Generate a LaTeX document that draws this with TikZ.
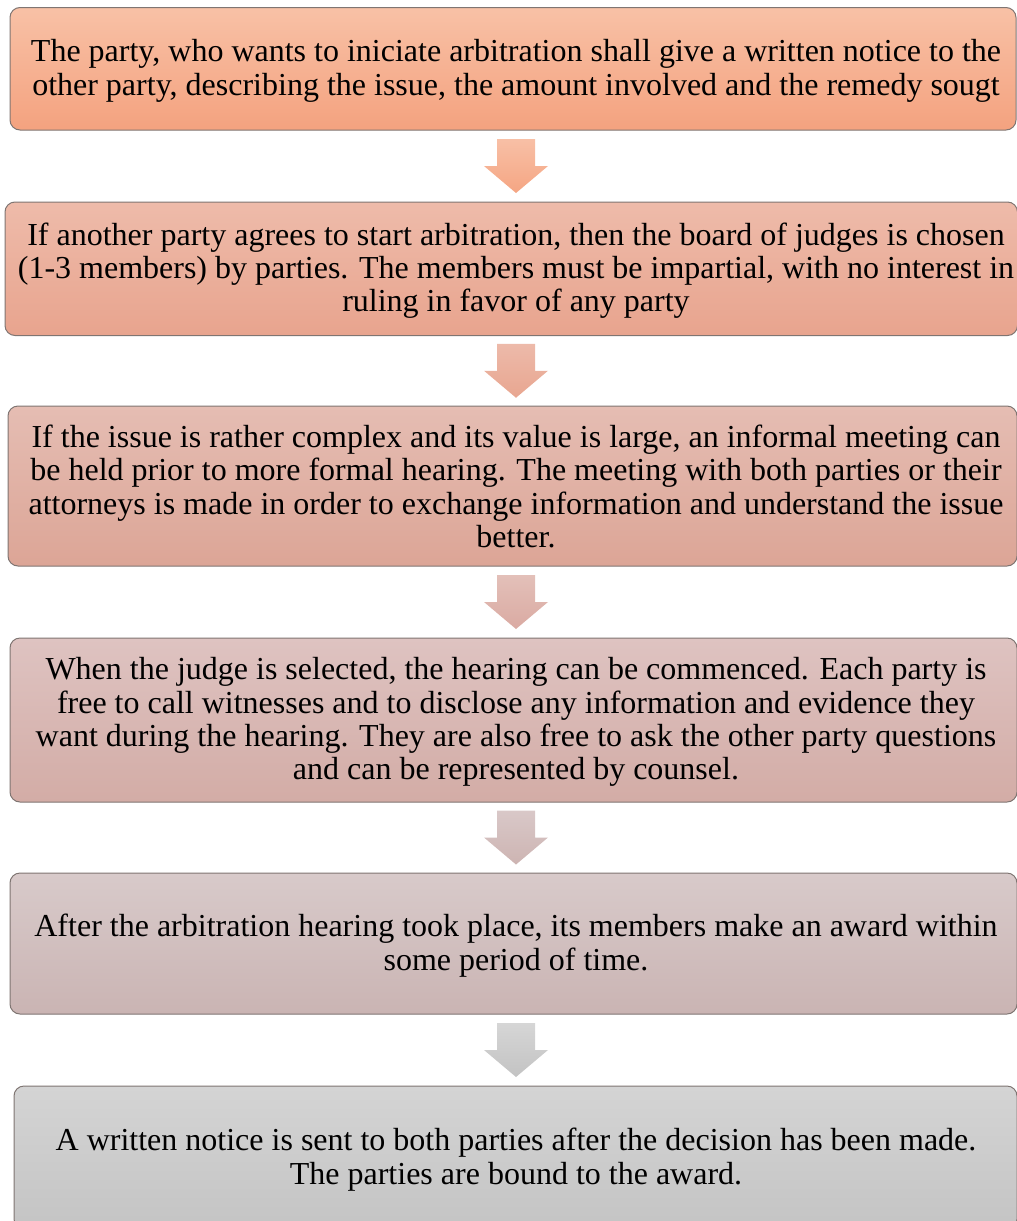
\documentclass[tikz,border=0pt]{standalone}
\usepackage{fontspec}
\setmainfont{Liberation Serif}
\usetikzlibrary{calc}
\definecolor{bAt}{HTML}{F8C1A6}\definecolor{bAb}{HTML}{F4A27F}
\definecolor{bBt}{HTML}{EEBBAA}\definecolor{bBb}{HTML}{E8A48E}
\definecolor{bCt}{HTML}{E5BDB3}\definecolor{bCb}{HTML}{DCA596}
\definecolor{bDt}{HTML}{DEC3C1}\definecolor{bDb}{HTML}{D3ACA6}
\definecolor{bEt}{HTML}{D8CACA}\definecolor{bEb}{HTML}{CAB4B3}
\definecolor{bFt}{HTML}{D4D4D4}\definecolor{bFb}{HTML}{C4C4C4}
\definecolor{aAt}{HTML}{F8C0A6}\definecolor{aAb}{HTML}{F5A583}
\definecolor{aBt}{HTML}{EDBAAA}\definecolor{aBb}{HTML}{E8A690}
\definecolor{aCt}{HTML}{E3C0B9}\definecolor{aCb}{HTML}{DAAAA2}
\definecolor{aDt}{HTML}{D9C8C8}\definecolor{aDb}{HTML}{CDB4B2}
\definecolor{aEt}{HTML}{D6D6D6}\definecolor{aEb}{HTML}{C3C3C3}
\definecolor{edge}{HTML}{7F7572}
\newcommand{\flowarrow}[3]{%
  \shade[top color=#2, bottom color=#3]
    ([xshift=-19pt,yshift=27pt]#1) -- ([xshift=19pt,yshift=27pt]#1) --
    ([xshift=19pt]#1) -- ([xshift=32pt]#1) -- ([yshift=-27pt]#1) --
    ([xshift=-32pt]#1) -- ([xshift=-19pt]#1) -- cycle;}
\begin{document}
\begin{tikzpicture}[x=1pt,y=-1pt,
  box/.style={draw=edge, line width=1pt, rounded corners=10pt, inner sep=0pt, outer sep=0pt},
  txt/.style={align=center, inner sep=0pt, yshift=-2pt, font=\fontsize{32}{33.3}\selectfont}]
\useasboundingbox (0,0) rectangle (1017,1221);
\begin{scope}
\clip (0,0) rectangle (1017,1221);
\node[box, top color=bAt, bottom color=bAb, minimum width=1006pt, minimum height=122.5pt] (b1) at (513,68.75) {};
\node[box, top color=bBt, bottom color=bBb, minimum width=1012.5pt, minimum height=133.5pt] (b2) at (511.25,268.75) {};
\node[box, top color=bCt, bottom color=bCb, minimum width=1009pt, minimum height=160pt] (b3) at (512.5,486) {};
\node[box, top color=bDt, bottom color=bDb, minimum width=1007pt, minimum height=164pt] (b4) at (513.5,720) {};
\node[box, top color=bEt, bottom color=bEb, minimum width=1007pt, minimum height=141pt] (b5) at (513.5,943.5) {};
\node[box, top color=bFt, bottom color=bFb, minimum width=1003pt, minimum height=143pt] (b6) at (515.5,1157.5) {};
\end{scope}
\node[txt] (t1) at (516,68.75) {The party, who wants to iniciate arbitration shall give a written notice to the\\other party, describing the issue, the amount involved and the remedy sougt};
\node[txt] (t2) at (516,268.75) {If another party agrees to start arbitration, then the board of judges is chosen\\(1-3 members) by parties. The members must be impartial, with no interest in\\ruling in favor of any party};
\node[txt] (t3) at (516,484.5) {If the issue is rather complex and its value is large, an informal meeting can\\be held prior to more formal hearing. The meeting with both parties or their\\attorneys is made in order to exchange information and understand the issue\\better.};
\node[txt] (t4) at (516,720) {When the judge is selected, the hearing can be commenced. Each party is\\free to call witnesses and to disclose any information and evidence they\\want during the hearing. They are also free to ask the other party questions\\and can be represented by counsel.};
\node[txt] (t5) at (516,943.5) {After the arbitration hearing took place, its members make an award within\\some period of time.};
\node[txt] (t6) at (516,1157.5) {A written notice is sent to both parties after the decision has been made.\\The parties are bound to the award.};
\coordinate (axis) at (516,0);
\coordinate (m1) at ($(b1.south)!0.5!(b2.north)$);
\coordinate (m2) at ($(b2.south)!0.5!(b3.north)$);
\coordinate (m3) at ($(b3.south)!0.5!(b4.north)$);
\coordinate (m4) at ($(b4.south)!0.5!(b5.north)$);
\coordinate (m5) at ($(b5.south)!0.5!(b6.north)$);
\flowarrow{axis |- m1}{aAt}{aAb}
\flowarrow{axis |- m2}{aBt}{aBb}
\flowarrow{axis |- m3}{aCt}{aCb}
\flowarrow{axis |- m4}{aDt}{aDb}
\flowarrow{axis |- m5}{aEt}{aEb}
\end{tikzpicture}
\end{document}
